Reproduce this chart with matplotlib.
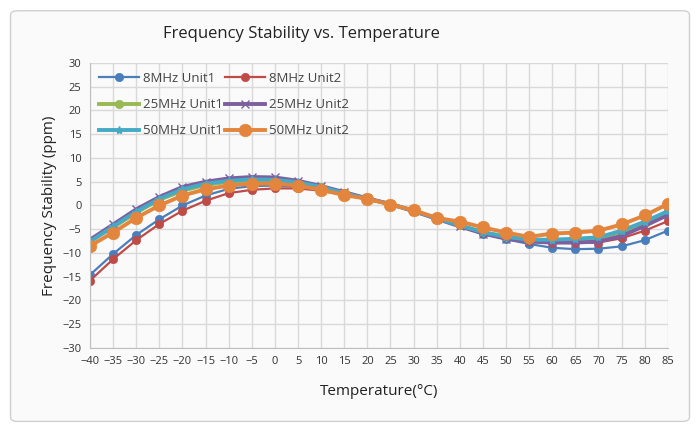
import matplotlib.pyplot as plt
from matplotlib.patches import FancyBboxPatch

plt.rcParams["font.family"] = ["Open Sans", "DejaVu Sans"]

temps = [-40, -35, -30, -25, -20, -15, -10, -5, 0, 5, 10, 15, 20,
         25, 30, 35, 40, 45, 50, 55, 60, 65, 70, 75, 80, 85]

mhz8_unit1 = [-14.6, -10.2, -6.2, -2.9, 0.0, 2.1, 3.5, 4.1, 4.2, 4.0, 3.4, 2.4, 1.4,
              0.3, -1.0, -2.6, -4.2, -5.9, -7.1, -8.1, -8.9, -9.2, -9.1, -8.6, -7.3, -5.3]
mhz8_unit2 = [-15.8, -11.3, -7.3, -3.9, -1.1, 1.0, 2.6, 3.3, 3.6, 3.6, 3.1, 2.2, 1.3,
              0.3, -1.0, -2.6, -4.1, -5.6, -6.7, -7.5, -7.9, -7.9, -7.8, -6.9, -5.3, -3.3]
mhz25_unit1 = [-7.5, -4.6, -1.5, 1.2, 3.1, 4.3, 5.0, 5.3, 5.3, 4.8, 3.8, 2.6, 1.4,
               0.3, -1.1, -2.7, -4.2, -5.6, -6.6, -7.2, -7.3, -7.2, -6.9, -5.6, -3.6, -1.2]
mhz25_unit2 = [-7.2, -4.0, -0.8, 1.8, 3.9, 5.0, 5.7, 6.0, 5.9, 5.2, 4.1, 2.8, 1.5,
               0.3, -1.2, -2.8, -4.4, -5.9, -7.0, -7.6, -7.8, -7.8, -7.6, -6.4, -4.3, -2.0]
mhz50_unit1 = [-7.6, -4.4, -1.3, 1.4, 3.4, 4.6, 5.2, 5.5, 5.4, 4.9, 3.9, 2.6, 1.4,
               0.3, -1.1, -2.7, -4.2, -5.6, -6.6, -7.2, -7.2, -7.0, -6.7, -5.3, -3.4, -1.2]
mhz50_unit2 = [-8.5, -5.7, -2.6, 0.0, 2.1, 3.4, 4.2, 4.6, 4.6, 4.2, 3.3, 2.2, 1.4,
               0.2, -1.0, -2.6, -3.4, -4.6, -5.7, -6.6, -5.9, -5.7, -5.3, -4.0, -2.1, 0.3]

series = [
    ("8MHz Unit1", mhz8_unit1, "#4A7EBB", "o", 6, 1.6),
    ("8MHz Unit2", mhz8_unit2, "#BE4B48", "o", 6, 1.6),
    ("25MHz Unit1", mhz25_unit1, "#98B954", "o", 6, 2.8),
    ("25MHz Unit2", mhz25_unit2, "#7D5FA0", "x", 6, 2.8),
    ("50MHz Unit1", mhz50_unit1, "#46AAC5", "*", 6, 2.8),
    ("50MHz Unit2", mhz50_unit2, "#E3853C", "o", 9, 2.8),
]

fig = plt.figure(figsize=(7, 4.3), dpi=100)
fig.patch.set_facecolor("white")

# outer chart frame
frame = FancyBboxPatch((0.015, 0.02), 0.97, 0.955, boxstyle="round,pad=0,rounding_size=0.01",
                       transform=fig.transFigure, facecolor="#FAFAFA",
                       edgecolor="#D0D0D0", linewidth=1.0, zorder=-10)
fig.patches.append(frame)

ax = fig.add_axes([0.1286, 0.1907, 0.8254, 0.6628])
ax.set_facecolor("#FAFAFA")

lines = []
for label, vals, color, marker, msize, lw in series:
    ln, = ax.plot(temps, vals, color=color, marker=marker, markersize=msize, linewidth=lw,
                  markeredgewidth=1.0 if marker in ("x", "*") else 0.5, label=label)
    lines.append(ln)

ax.set_xlim(-40, 85)
ax.set_ylim(-30, 30)
ax.set_xticks(temps)
ax.set_yticks(range(-30, 31, 5))
ax.tick_params(axis="both", labelsize=8, length=0, colors="#333333", pad=6)
ax.grid(True, color="#D9D9D9", linewidth=1.0)
ax.set_axisbelow(True)
for side in ["top", "right"]:
    ax.spines[side].set_visible(False)
for side in ["left", "bottom"]:
    ax.spines[side].set_color("#BFBFBF")

ax.set_xlabel("Temperature(°C)", fontsize=11, color="#222222", labelpad=12)
ax.set_ylabel("Frequency Stability (ppm)", fontsize=11, color="#222222", labelpad=4)
fig.text(0.43, 0.922, "Frequency Stability vs. Temperature", ha="center", va="center",
         fontsize=12, color="#222222")

# legend is filled row by row in the reference
order = [0, 2, 4, 1, 3, 5]
ax.legend([lines[i] for i in order], [series[i][0] for i in order],
          loc="upper left", ncol=2, frameon=False, fontsize=9.5, handlelength=3.0,
          columnspacing=0.2, handletextpad=0.3, labelspacing=1.0,
          bbox_to_anchor=(-0.005, 1.01), labelcolor="#444444")

fig.savefig("out.png", dpi=100)
